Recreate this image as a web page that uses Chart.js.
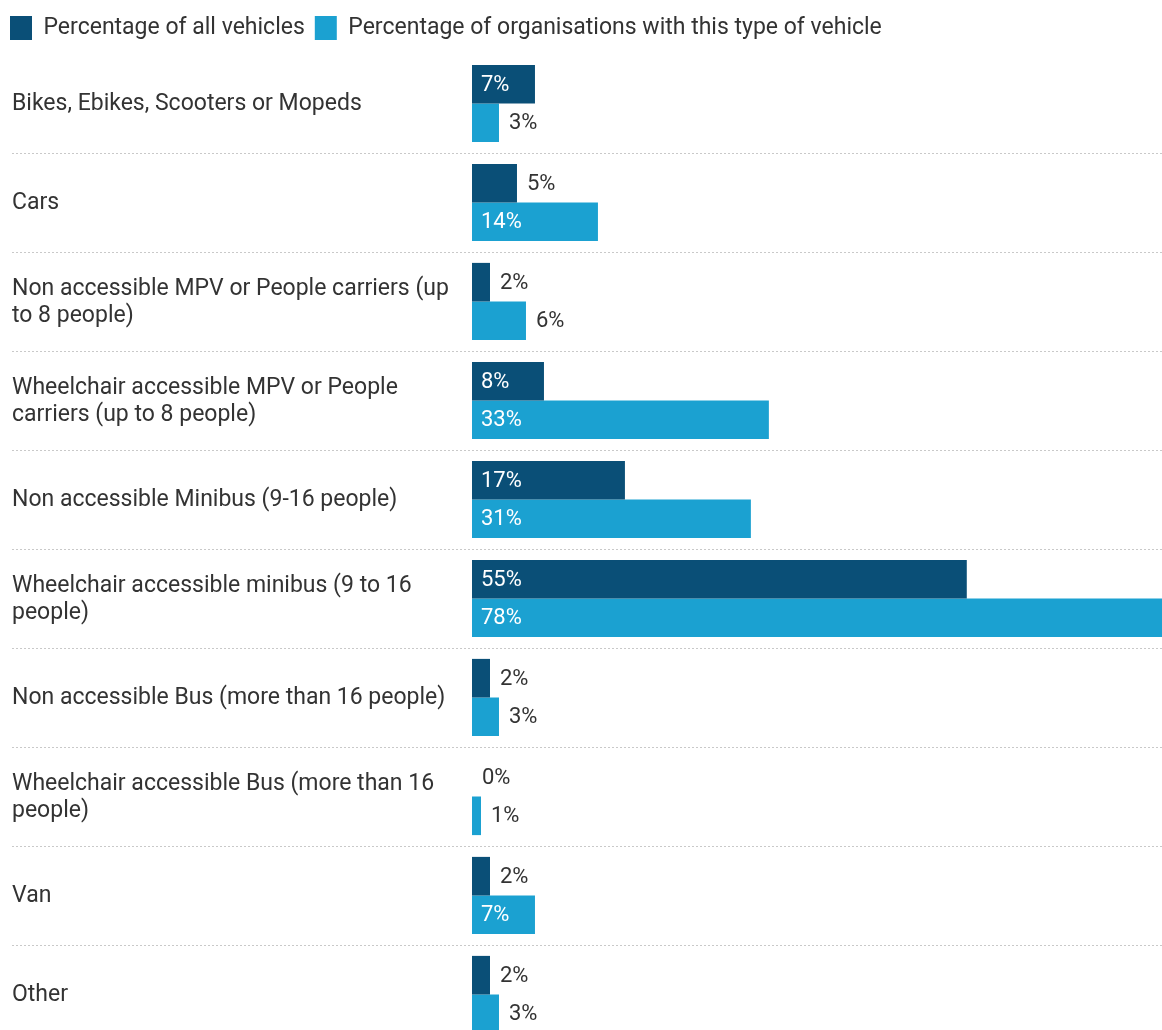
<!DOCTYPE html>
<html>
<head>
<meta charset="utf-8">
<script src="https://cdn.jsdelivr.net/npm/chart.js@4"></script>
<style>
  html, body { margin: 0; padding: 0; background: #fff; overflow: hidden; }
  #wrap { position: relative; width: 1162px; height: 1044px; }
</style>
</head>
<body>
<div id="wrap"><canvas id="vehicle-chart"></canvas></div>
<script>
const categories = [
  ['Bikes, Ebikes, Scooters or Mopeds'],
  ['Cars'],
  ['Non accessible MPV or People carriers (up', 'to 8 people)'],
  ['Wheelchair accessible MPV or People', 'carriers (up to 8 people)'],
  ['Non accessible Minibus (9-16 people)'],
  ['Wheelchair accessible minibus (9 to 16', 'people)'],
  ['Non accessible Bus (more than 16 people)'],
  ['Wheelchair accessible Bus (more than 16', 'people)'],
  ['Van'],
  ['Other']
]
const seriesNames = ['Percentage of all vehicles', 'Percentage of organisations with this type of vehicle']
const allVehicles = [7, 5, 2, 8, 17, 55, 2, 0, 2, 2]
const orgsWithType = [3, 14, 6, 33, 31, 78, 3, 1, 7, 3]

const colors = {
  dark: '#0a4f77',
  light: '#1ba1d1',
  text: '#333333',
  rule: '#c9c9c9'
}
const fontFamily = 'Roboto, "Noto Sans", sans-serif'
const labelSize = 23
const valueSize = 22

// dotted separators between rows plus the category names on the left
const rowLines = {
  id: 'rowLines',
  beforeDatasetsDraw(chart) {
    const { ctx } = chart
    const y = chart.scales.y
    ctx.save()
    ctx.strokeStyle = colors.rule
    ctx.lineWidth = 1
    ctx.setLineDash([2, 2])
    for (let i = 0; i < categories.length - 1; i++) {
      const py = Math.round((y.getPixelForValue(i) + y.getPixelForValue(i + 1)) / 2) + 0.5
      ctx.beginPath()
      ctx.moveTo(12, py)
      ctx.lineTo(chart.width, py)
      ctx.stroke()
    }
    ctx.setLineDash([])
    ctx.fillStyle = colors.text
    ctx.font = labelSize + 'px ' + fontFamily
    ctx.textAlign = 'left'
    ctx.textBaseline = 'middle'
    categories.forEach((lines, i) => {
      const cy = y.getPixelForValue(i) + 1
      lines.forEach((line, j) => {
        ctx.fillText(line, 12, cy + (j - (lines.length - 1) / 2) * 27)
      })
    })
    ctx.restore()
  }
}

// value labels: white inside wide bars, dark text after narrow ones
const barLabels = {
  id: 'barLabels',
  afterDatasetsDraw(chart) {
    const { ctx } = chart
    ctx.save()
    ctx.font = valueSize + 'px ' + fontFamily
    ctx.textAlign = 'left'
    ctx.textBaseline = 'middle'
    chart.data.datasets.forEach((ds, di) => {
      const meta = chart.getDatasetMeta(di)
      meta.data.forEach((bar, i) => {
        const v = ds.data[i]
        const inside = v >= 7
        ctx.fillStyle = inside ? '#ffffff' : colors.text
        const x = inside ? bar.base + 9 : bar.x + 10
        ctx.fillText(v + '%', x, bar.y + 1)
      })
    })
    ctx.restore()
  }
}

new Chart(document.getElementById('vehicle-chart'), {
  type: 'bar',
  data: {
    labels: categories.map(c => c.join(' ')),
    datasets: [{
      label: seriesNames[0],
      data: allVehicles,
      backgroundColor: colors.dark,
      borderWidth: 0,
      categoryPercentage: 0.78,
      barPercentage: 1
    }, {
      label: seriesNames[1],
      data: orgsWithType,
      backgroundColor: colors.light,
      borderWidth: 0,
      categoryPercentage: 0.78,
      barPercentage: 1
    }]
  },
  options: {
    indexAxis: 'y',
    responsive: true,
    maintainAspectRatio: false,
    animation: false,
    layout: {
      padding: { top: 6, left: 0, right: 0, bottom: 0 }
    },
    plugins: {
      legend: {
        position: 'top',
        align: 'start',
        labels: {
          boxWidth: 22,
          boxHeight: 24,
          padding: 10,
          color: colors.text,
          font: { size: labelSize, family: fontFamily }
        }
      },
      tooltip: { enabled: false }
    },
    scales: {
      x: {
        position: 'top',
        min: 0,
        max: 76.7,
        ticks: { display: false },
        grid: { display: false },
        border: { display: false },
        afterFit(scale) { scale.height = 4 }
      },
      y: {
        ticks: { display: false },
        grid: { display: false },
        border: { display: false },
        afterFit(scale) { scale.width = 472 }
      }
    }
  },
  plugins: [rowLines, barLabels]
})
</script>
</body>
</html>
